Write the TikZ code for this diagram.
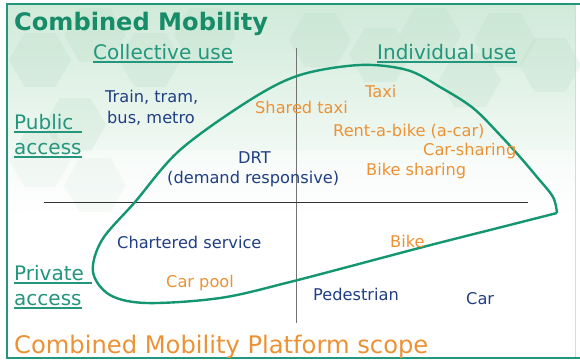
\documentclass[tikz,border=0pt]{standalone}
\usepackage{fontspec}
\setmainfont{DejaVu Sans}
\usetikzlibrary{shapes.geometric}
\definecolor{teal1}{RGB}{22,140,105}
\definecolor{teal2}{RGB}{35,150,125}
\definecolor{curvec}{RGB}{20,150,112}
\definecolor{dblue}{RGB}{32,62,130}
\definecolor{orng}{RGB}{236,146,52}
\definecolor{bgg}{RGB}{208,234,217}
\definecolor{hexc}{RGB}{180,218,192}
\begin{document}
\begin{tikzpicture}[x=1pt,y=-1pt,
  txt/.style={anchor=base west,inner sep=0pt,font=\fontsize{16.2}{19}\selectfont},
  blue/.style={txt,text=dblue},
  orange/.style={txt,text=orng},
  head/.style={anchor=base west,inner sep=0pt,text=teal2,font=\fontsize{20}{24}\selectfont},
  uline/.style={teal2,line width=1.2pt},
  hex/.style={regular polygon,regular polygon sides=6,minimum size=62pt,fill=hexc,opacity=0.22,inner sep=0pt}]
\useasboundingbox (0,0) rectangle (580,360);
\fill[white] (0,0) rectangle (580,360);
\shade[top color=bgg,bottom color=white] (7,4) rectangle (575,215);
% faint hexagons
\foreach \hx/\hy in {40/60,95/35,150/60,205/35,320/40,380/55,430/35,505/40,550/65,40/160,95/185,75/125,470/80}
  \node[hex] at (\hx,\hy) {};
\fill[white,opacity=0.45] (7,150) rectangle (575,215);
% frame
\draw[teal2,line width=1.2pt] (580,4) -- (7,4) -- (7,358) -- (580,358);
\draw[black!15,line width=0.8pt] (575,5) -- (575,357);
% axes
\coordinate (vtop) at (296,48);
\coordinate (vbot) at (296,323);
\coordinate (hl) at (44,202);
\coordinate (hr) at (528,202);
\draw[black!55,line width=0.8pt] (vtop) -- (vbot);
\draw[black!80,line width=0.8pt] (hl) -- (hr);
% scope curve
\draw[curvec,line width=2.4pt,line join=round]
  plot[smooth,tension=0.55] coordinates {(557,213) (553,197) (537,177) (520,157) (500,135) (473,108) (440,87) (407,70) (360,65) (300,75) (250,100) (180,150) (135,202) (102,240) (93,272) (110,295) (147,303) (220,298) (290,282) (423,247) (490,230) (557,213)};
% title
\node[anchor=base west,inner sep=0pt,text=teal1,font=\bfseries\fontsize{24.1}{28}\selectfont] (title) at (14,30) {Combined Mobility};
% headers
\node[head] (coll) at (93,59) {Collective use};
\node[head] (indiv) at (377,59) {Individual use};
\node[head] (pub1) at (14,129) {Public};
\node[head] (pub2) at (14,154) {access};
\node[head] (pri1) at (14,280) {Private};
\node[head] (pri2) at (14,305) {access};
\draw[uline] ([yshift=-3pt]coll.base west) -- ([yshift=-3pt]coll.base east);
\draw[uline] ([yshift=-3pt]indiv.base west) -- ([yshift=-3pt]indiv.base east);
\draw[uline] ([yshift=-3pt]pub1.base west) -- ([yshift=-3pt,xshift=8pt]pub1.base east);
\draw[uline] ([yshift=-3pt]pub2.base west) -- ([yshift=-3pt]pub2.base east);
\draw[uline] ([yshift=-3pt]pri1.base west) -- ([yshift=-3pt,xshift=8pt]pri1.base east);
\draw[uline] ([yshift=-3pt]pri2.base west) -- ([yshift=-3pt]pri2.base east);
% blue items
\node[blue] (train) at (105,102) {Train, tram,};
\node[blue] (bus) at (107,123) {bus, metro};
\node[blue] (drt) at (238,163) {DRT};
\node[blue] (drt2) at (167,183) {(demand responsive)};
\node[blue] (chart) at (117,248) {Chartered service};
\node[blue] (ped) at (313,300) {Pedestrian};
\node[blue] (car) at (466,304) {Car};
% orange items
\node[orange] (shtaxi) at (255,113) {Shared taxi};
\node[orange] (taxi) at (365,97) {Taxi};
\node[orange] (rent) at (333,136) {Rent-a-bike (a-car)};
\node[orange] (carsh) at (423,155) {Car-sharing};
\node[orange] (bikesh) at (366,175) {Bike sharing};
\node[orange] (carpool) at (166,287) {Car pool};
\node[orange] (bike) at (390,247) {Bike};
% footer
\node[anchor=base west,inner sep=0pt,text=orng,font=\fontsize{24.2}{28}\selectfont] (scope) at (14,353) {Combined Mobility Platform scope};
\end{tikzpicture}
\end{document}
